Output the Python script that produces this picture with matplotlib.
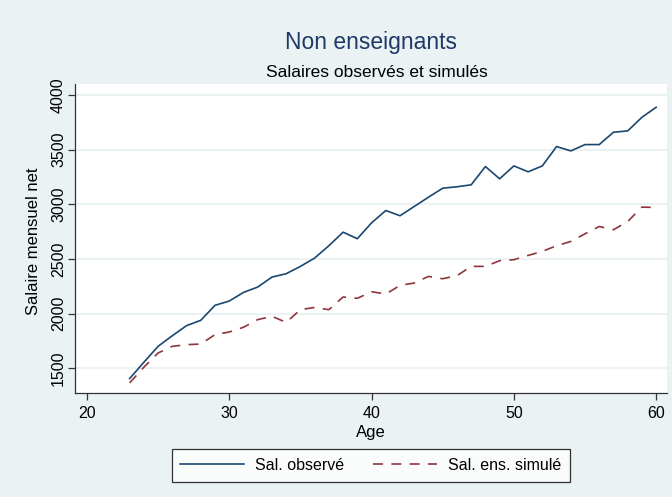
import matplotlib.pyplot as plt
import numpy as np

plt.rcParams['font.family'] = ['Liberation Sans', 'DejaVu Sans']

# data
ages = list(range(23, 61))
sal_observe = [1406, 1555, 1701, 1798, 1890, 1939, 2076, 2115, 2194, 2243,
               2334, 2365, 2432, 2508, 2621, 2745, 2685, 2830, 2943, 2895,
               2980, 3065, 3147, 3160, 3178, 3345, 3233, 3351, 3297, 3351,
               3528, 3488, 3546, 3546, 3659, 3671, 3796, 3887]
sal_simule = [1366, 1510, 1640, 1701, 1716, 1722, 1808, 1832, 1875, 1945,
              1975, 1920, 2036, 2057, 2036, 2152, 2140, 2200, 2179, 2258,
              2280, 2340, 2319, 2347, 2432, 2432, 2484, 2493, 2532, 2569,
              2621, 2660, 2730, 2797, 2767, 2843, 2974, 2971]

x_ticks = [20, 30, 40, 50, 60]
y_ticks = [1500, 2000, 2500, 3000, 3500, 4000]

bg = '#eaf2f3'
blue = '#1a476f'
red = '#90353b'

fig = plt.figure(figsize=(6.72, 4.97), dpi=100, facecolor=bg)
ax = fig.add_axes([75/672, 1-393/497, 592/672, 309/497])
ax.set_facecolor('white')

ax.plot(ages, sal_observe, color=blue, lw=1.2, label='Sal. observé')
ax.plot(ages, sal_simule, color=red, lw=1.2, dashes=(6, 5), label='Sal. ens. simulé')

ax.set_xlim(19.16, 60.76)
ax.set_ylim(1274, 4100)
ax.set_xticks(x_ticks)
ax.set_yticks(y_ticks)
ax.grid(axis='y', color=bg, lw=1.5)
ax.set_axisbelow(True)

for s in ['top', 'right']:
    ax.spines[s].set_visible(False)
for s in ['left', 'bottom']:
    ax.spines[s].set_color('#333333')
    ax.spines[s].set_linewidth(0.9)

ax.tick_params(axis='both', labelsize=11.5, length=5, width=0.9, color='#333333')
ax.tick_params(axis='x', pad=4)
ax.tick_params(axis='y', pad=1.5)
for lab in ax.get_yticklabels():
    lab.set_rotation(90)
    lab.set_va('center')

ax.set_xlabel('Age', fontsize=12, labelpad=3)
ax.set_ylabel('Salaire mensuel net', fontsize=12)
ax.yaxis.set_label_coords(-0.057, 0.49)

fig.text(371/672, 1-43/497, 'Non enseignants', ha='center', va='center',
         fontsize=16.5, color='#1f3a68')
fig.text(377/672, 1-72/497, 'Salaires observés et simulés', ha='center',
         va='center', fontsize=12.5)

leg = fig.legend(loc='center', bbox_to_anchor=(371/672, 1-465.5/497), ncol=2,
                 fontsize=11.5, frameon=True, fancybox=False, handlelength=4,
                 handletextpad=0.7, columnspacing=1.8, borderpad=0.55,
                 borderaxespad=0)
leg.get_frame().set_edgecolor('black')
leg.get_frame().set_linewidth(0.9)
leg.get_frame().set_facecolor('white')

fig.savefig('out.png', dpi=100, facecolor=bg)
